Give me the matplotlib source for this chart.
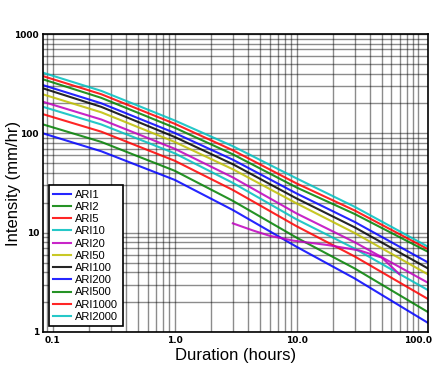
import matplotlib.pyplot as plt
from matplotlib.ticker import FixedLocator, FixedFormatter, NullFormatter

# durations in hours (5 min .. 120 h)
durations = [5 / 60, 0.25, 1, 3, 10, 30, 120]

labels = ['ARI1', 'ARI2', 'ARI5', 'ARI10', 'ARI20', 'ARI50',
          'ARI100', 'ARI200', 'ARI500', 'ARI1000', 'ARI2000']

# intensity (mm/hr) for each ARI at the durations above
ari1 = [100, 66, 34, 16.9, 7.2, 3.45, 1.23]
ari2 = [123, 82, 42, 20.9, 8.9, 4.35, 1.58]
ari5 = [156, 104, 53, 26.9, 11.6, 5.75, 2.14]
ari10 = [185, 123, 63, 31.7, 13.6, 6.9, 2.63]
ari20 = [208, 138, 70, 36, 15.6, 8.0, 3.12]
ari50 = [247, 163, 82, 43.5, 19.7, 9.9, 3.79]
ari100 = [284, 185, 92, 48.9, 22.1, 11.3, 4.35]
ari200 = [306, 201, 101, 54.3, 24.8, 12.8, 5.0]
ari500 = [350, 228, 114, 61.5, 28.5, 15.4, 6.4]
ari1000 = [377, 248, 125, 67.6, 31.3, 16.7, 6.8]
ari2000 = [408, 268, 135, 74.3, 35.2, 18.2, 7.2]

series = [ari1, ari2, ari5, ari10, ari20, ari50,
          ari100, ari200, ari500, ari1000, ari2000]

# stray observed curve (no legend entry)
obs_dur = [3, 4.4, 6, 9.4, 18, 33, 50, 70]
obs_int = [12.4, 10.5, 9.3, 8.3, 7.5, 6.6, 5.6, 3.8]

colors = ['b', 'g', 'r', 'c', 'm', 'y', 'k', 'b', 'g', 'r', 'c']

fig = plt.figure(figsize=(4.4, 3.75), dpi=100)
ax = fig.add_axes([0.098, 0.115, 0.875, 0.794])

for vals, lab, col in zip(series, labels, colors):
    ax.plot(durations, vals, color=col, lw=1.5, label=lab, alpha=0.85)
ax.plot(obs_dur, obs_int, color='m', lw=1.5, alpha=0.85)

ax.set_xscale('log')
ax.set_yscale('log')
ax.set_xlim(5 / 60, 120)
ax.set_ylim(1, 1000)

ax.xaxis.set_major_locator(FixedLocator([0.1, 1, 10, 100]))
ax.xaxis.set_major_formatter(FixedFormatter(['0.1', '1.0', '10.0', '100.0']))
ax.xaxis.set_minor_formatter(NullFormatter())
ax.yaxis.set_major_locator(FixedLocator([1, 10, 100, 1000]))
ax.yaxis.set_major_formatter(FixedFormatter(['1', '10', '100', '1000']))
ax.yaxis.set_minor_formatter(NullFormatter())

ax.grid(True, which='both', color='k', alpha=0.45, lw=1)
ax.tick_params(which='both', length=0, pad=3)
for t in ax.get_xticklabels() + ax.get_yticklabels():
    t.set_fontsize(6.5)
    t.set_fontweight('bold')
for s in ax.spines.values():
    s.set_linewidth(1.2)

ax.set_xlabel('Duration (hours)', fontsize=12, family='Liberation Sans', labelpad=2)
ax.set_ylabel('Intensity (mm/hr)', fontsize=12, family='Liberation Sans')
ax.yaxis.set_label_coords(-0.058, 0.5)

leg = ax.legend(loc='lower left', prop={'family': 'Liberation Sans', 'size': 8},
                fancybox=False, framealpha=1, edgecolor='k', labelspacing=0.2,
                handlelength=1.6, handletextpad=0.4, borderpad=0.4)
leg.get_frame().set_linewidth(1.2)

fig.savefig('out.png', dpi=100)
